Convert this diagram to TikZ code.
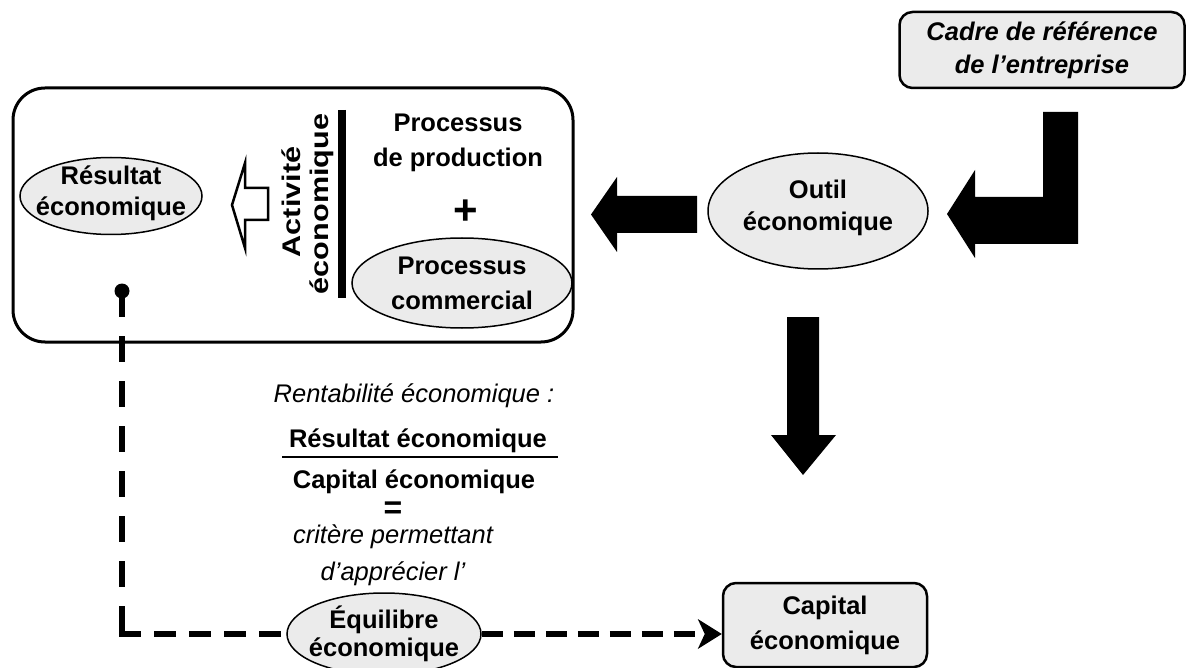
\documentclass[tikz,border=0pt]{standalone}
\usepackage{fontspec}
\setmainfont{Liberation Sans}
\usetikzlibrary{shapes.geometric,arrows.meta,calc}
\definecolor{boxgray}{HTML}{EBEBEB}
\newcommand\labfont[1]{\fontsize{25.5}{#1}\selectfont\bfseries}
\begin{document}
\begin{tikzpicture}[x=1pt,y=-1pt,
  lbl/.style={font=\labfont{31}, align=center, inner sep=0pt},
  oval/.style={ellipse, draw, line width=1.5pt, fill=boxgray, inner sep=0pt},
  rbox/.style={lbl, draw, rounded corners=13pt, line width=2.5pt, fill=boxgray},
  note/.style={font=\fontsize{25.5}{31}\selectfont\itshape, align=center, inner sep=0pt},
  hollowarrow/.style={draw, line width=2.5pt, fill=white, line join=miter},
  link/.style={line width=6pt},
]
\useasboundingbox (0,0) rectangle (1188,668);
\fill[white] (0,0) rectangle (1188,668);

% economic activity frame
\node[draw, line width=3pt, rounded corners=32pt, minimum width=560pt,
      minimum height=254pt, inner sep=0pt] (activity) at (293,215) {};

\node[oval, minimum width=182pt, minimum height=77pt,
      label={[lbl, yshift=3pt]center:Résultat\\économique}] (resultat) at (111,196) {};

% hollow arrow: activity -> result
\draw[hollowarrow] (232,205) -- (245,163) -- (245,188) -- (268,188)
  -- (268,220) -- (245,220) -- (245,248) -- cycle;

\node[lbl, rotate=90, xscale=1.2] (act1) at (291,202) {Activité};
\node[lbl, rotate=90, xscale=1.2] (act2) at (322,204) {économique};
\draw[line width=8pt] (342,110) -- (342,298);

\node[lbl, font=\labfont{35}] (prod) at (458,143) {Processus\\de production};
\node[font=\fontsize{42}{42}\selectfont\bfseries, inner sep=0pt] (plus) at (466,212) {+};
\node[oval, minimum width=220pt, minimum height=90pt,
      label={[lbl, font=\labfont{35}]center:Processus\\commercial}] (comm) at (462,283) {};

% tool and frame of reference
\node[oval, minimum width=220pt, minimum height=116pt,
      label={[lbl, font=\labfont{32}, yshift=3pt]center:Outil\\économique}] (outil) at (818,211) {};
\node[rbox, minimum width=285pt, minimum height=76pt,
      font=\fontsize{25.5}{33}\selectfont\bfseries\itshape] (cadre) at (1042,50)
      {Cadre de référence\\de l’entreprise};

% solid block arrows
\fill (591,214.5) -- (617,177) -- (617,196) -- (697,196) -- (697,233)
  -- (617,233) -- (617,252) -- cycle;
\fill (947,214) -- (975,170) -- (975,197) -- (1043,197) -- (1043,112)
  -- (1078,112) -- (1078,244) -- (975,244) -- (975,258) -- cycle;
\fill (787,317) -- (819,317) -- (819,435) -- (836,435) -- (803,475)
  -- (771,435) -- (787,435) -- cycle;

% economic return
\node[note, anchor=base] (rent) at (414,402) {Rentabilité économique :};
\node[lbl, anchor=base] (num) at (418,447) {Résultat économique};
\draw[line width=2pt] (282,457) -- (558,457);
\node[lbl, anchor=base] (den) at (414,488) {Capital économique};
\node[font=\fontsize{32}{32}\selectfont\bfseries, inner sep=0pt] (eq) at (393,510) {=};
\node[note, anchor=base] (crit1) at (393,543) {critère permettant};
\node[note, anchor=base] (crit2) at (393,580) {d’apprécier l’};

\node[oval, minimum width=194pt, minimum height=82pt,
      label={[lbl, font=\labfont{28}]center:Équilibre\\économique}] (equi) at (384,634) {};
\node[rbox, minimum width=204pt, minimum height=84pt, font=\labfont{35}] (capital)
      at (825,625) {Capital\\économique};

% dashed link
\node[circle, fill, inner sep=0pt, minimum size=15pt] (dot) at (122,291) {};
\coordinate (bend) at (dot |- equi);
\draw[link, dash pattern=on 26pt off 19pt] (dot.center) -- ([yshift=-3pt]bend);
\draw[link, dash pattern=on 22pt off 13pt] ([xshift=-3pt]bend) -- (equi.west);
\draw[link, dash pattern=on 21pt off 11pt,
      -{Stealth[length=24pt, width=30pt, inset=7pt, line width=0pt]}]
      (equi.east) -- (equi.east -| capital.west);
\end{tikzpicture}
\end{document}
